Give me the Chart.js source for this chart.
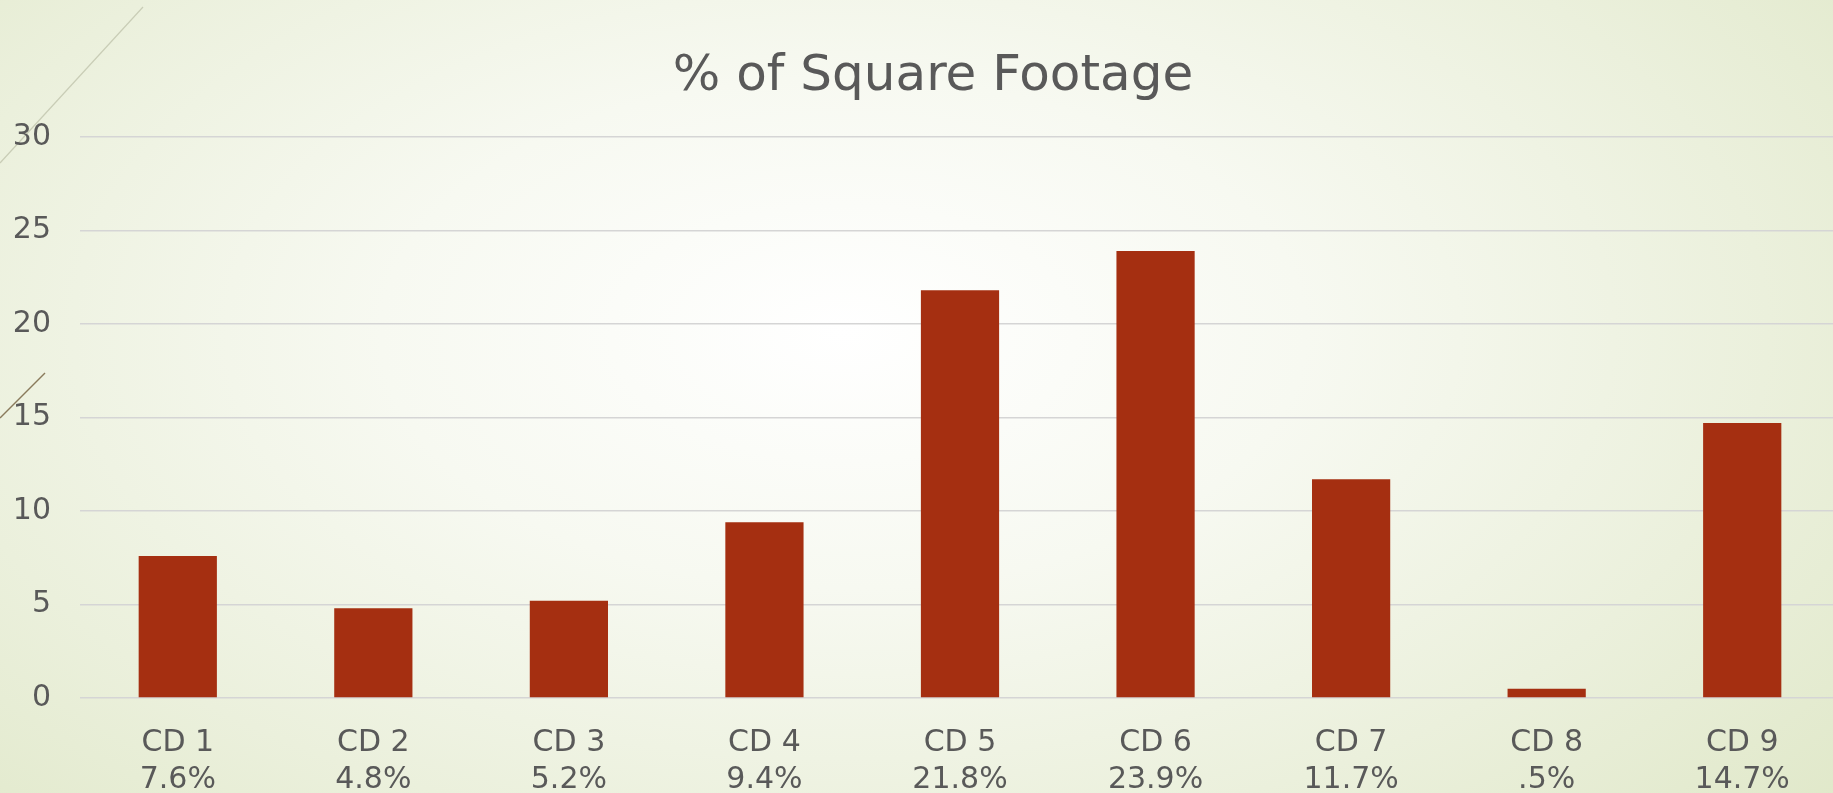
<!DOCTYPE html>
<html>
<head>
<meta charset="utf-8">
<script src="https://cdn.jsdelivr.net/npm/chart.js@4/dist/chart.umd.min.js"></script>
<style>
  html, body { margin: 0; padding: 0; width: 1833px; height: 793px; overflow: hidden; }
  body {
    background: radial-gradient(ellipse 72% 92% at 46% 42%, #ffffff 0%, #f7f9f1 35%, #ebf0dc 70%, #e0e8c9 100%);
    position: relative;
  }
  #deco { position: absolute; left: 0; top: 0; width: 200px; height: 450px; }
  #c { position: absolute; left: 0; top: 0; }
</style>
</head>
<body>
<svg id="deco" viewBox="0 0 200 450">
  <line x1="0" y1="163" x2="143" y2="7" stroke="#c9cdb6" stroke-width="1.2"/>
  <line x1="0" y1="418" x2="45" y2="373" stroke="#8a7b5c" stroke-width="1.4"/>
</svg>
<canvas id="c" width="1866" height="793"></canvas>
<script>
const categories = ['CD 1', 'CD 2', 'CD 3', 'CD 4', 'CD 5', 'CD 6', 'CD 7', 'CD 8', 'CD 9'];
const pctLabels = ['7.6%', '4.8%', '5.2%', '9.4%', '21.8%', '23.9%', '11.7%', '.5%', '14.7%'];
const values = [7.6, 4.8, 5.2, 9.4, 21.8, 23.9, 11.7, 0.5, 14.7];
const yTicks = [0, 5, 10, 15, 20, 25, 30];

const FONT = 'DejaVu Sans';
const TEXT = '#595959';

new Chart(document.getElementById('c'), {
  type: 'bar',
  data: {
    labels: categories,
    datasets: [{
      label: '% of Square Footage',
      data: values,
      backgroundColor: '#a52f11',
      borderWidth: 0,
      barPercentage: 0.4,
      categoryPercentage: 1.0,
      yAxisID: 'y'
    }]
  },
  options: {
    responsive: false,
    devicePixelRatio: 1,
    animation: false,
    layout: { padding: 0 },
    plugins: {
      legend: { display: false },
      tooltip: { enabled: false },
      title: {
        display: true,
        text: '% of Square Footage',
        color: TEXT,
        font: { family: FONT, size: 50, weight: 'normal', lineHeight: 1.2 },
        padding: { top: 47, bottom: 30 }
      }
    },
    scales: {
      x: {
        grid: { display: false },
        border: { display: false },
        ticks: {
          color: TEXT,
          font: { family: FONT, size: 30, lineHeight: 1.25 },
          padding: 18,
          autoSkip: false,
          maxRotation: 0,
          callback: (v, i) => [categories[i], pctLabels[i]]
        },
        afterFit: (s) => { s.height = 95; }
      },
      y: {
        position: 'left',
        min: 0,
        max: 30,
        afterBuildTicks: (s) => { s.ticks = yTicks.map(v => ({ value: v })); },
        grid: { color: '#d5d5d5', lineWidth: 1.5, drawTicks: false },
        border: { display: false },
        ticks: {
          color: TEXT,
          font: { family: FONT, size: 30 },
          padding: 29
        },
        afterFit: (s) => { s.width = 80; }
      },
      yRight: {
        position: 'right',
        display: true,
        min: 0,
        max: 30,
        grid: { display: false, drawTicks: false },
        border: { display: false },
        ticks: { display: false },
        afterFit: (s) => { s.width = 26; }
      }
    }
  }
});
</script>
</body>
</html>
